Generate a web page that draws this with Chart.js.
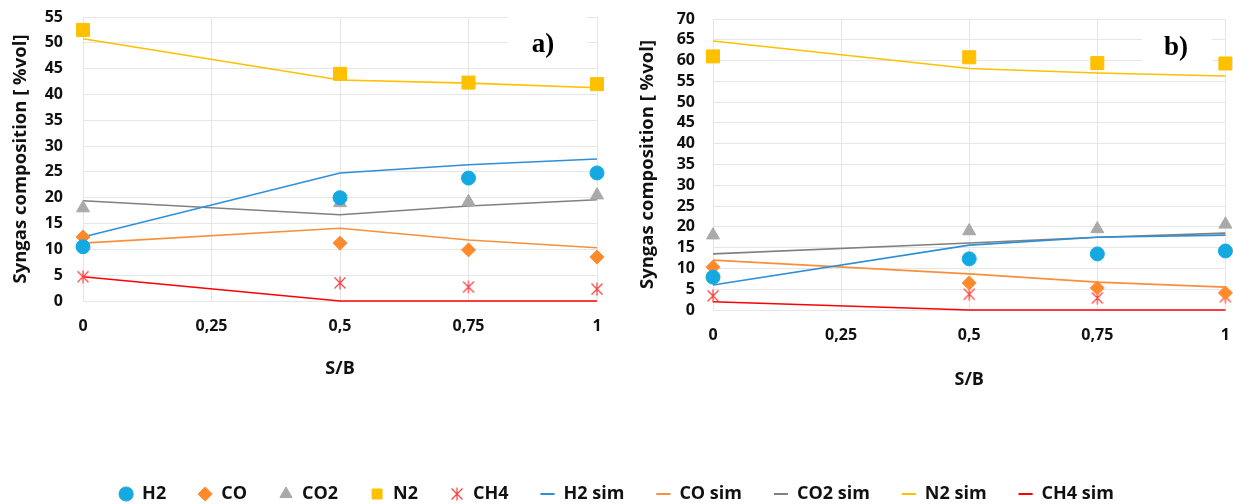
<!DOCTYPE html>
<html>
<head>
<meta charset="utf-8">
<script src="https://cdn.jsdelivr.net/npm/chart.js@4.4.0/dist/chart.umd.min.js"></script>
<style>
  html, body { margin: 0; padding: 0; background: #fff; overflow: hidden; }
  #wrap { position: relative; width: 1233px; height: 504px; overflow: hidden; }
  #chartA { position: absolute; left: 0; top: 0; }
  #chartB { position: absolute; left: 615px; top: 0; }
</style>
</head>
<body>
<div id="wrap">
  <canvas id="chartA" width="1233" height="513"></canvas>
  <canvas id="chartB" width="631" height="420"></canvas>
</div>
<script>
// S/B values and tick labels
const sbValues = [0, 0.5, 0.75, 1];
const xTickLabels = ["0", "0,25", "0,5", "0,75", "1"];

const seriesNames = ["H2", "CO", "CO2", "N2", "CH4"];
const simNames = ["H2 sim", "CO sim", "CO2 sim", "N2 sim", "CH4 sim"];

// panel a)
const h2A = [10.5, 20.0, 23.8, 24.8];
const coA = [12.4, 11.2, 9.9, 8.5];
const co2A = [18.0, 19.0, 19.2, 20.5];
const n2A = [52.5, 44.0, 42.3, 42.0];
const ch4A = [4.7, 3.5, 2.7, 2.3];
const h2SimA = [12.4, 24.8, 26.4, 27.5];
const coSimA = [11.2, 14.1, 11.8, 10.3];
const co2SimA = [19.4, 16.7, 18.4, 19.6];
const n2SimA = [50.8, 42.8, 42.2, 41.3];
const ch4SimA = [4.7, 0, 0, 0];

// panel b)
const h2B = [7.9, 12.3, 13.5, 14.2];
const coB = [10.3, 6.5, 5.3, 4.1];
const co2B = [18.0, 19.0, 19.5, 20.6];
const n2B = [61.0, 60.8, 59.4, 59.3];
const ch4B = [3.4, 3.8, 2.9, 3.2];
const h2SimB = [6.0, 15.6, 17.5, 18.0];
const coSimB = [12.0, 8.7, 6.7, 5.5];
const co2SimB = [13.5, 16.1, 17.5, 18.5];
const n2SimB = [64.7, 58.1, 57.0, 56.3];
const ch4SimB = [2.0, 0, 0, 0];

const FONT = "'Open Sans', Lato, sans-serif";
const markerColors = ["#14a9e1", "#ff8a2c", "#a9a9a9", "#ffc000", "#ff4040"];
const lineColors = ["#2e8fd6", "#f98f3c", "#808080", "#ffc000", "#ff0000"];

// excel style star marker: an X with a vertical bar
function makeStar(color) {
  const c = document.createElement("canvas");
  c.width = 14;
  c.height = 14;
  const g = c.getContext("2d");
  g.strokeStyle = color;
  g.lineWidth = 1.2;
  g.beginPath();
  g.moveTo(7, 0.5); g.lineTo(7, 13.5);
  g.moveTo(1.5, 1.5); g.lineTo(12.5, 12.5);
  g.moveTo(12.5, 1.5); g.lineTo(1.5, 12.5);
  g.stroke();
  return c;
}
const starImg = makeStar("#ff4040");

const markerStyles = ["circle", "rectRot", "triangle", "rect", starImg];
const markerRadius = [7, 7, 7.5, 9.2, 7];

function pts(values) {
  return values.map((v, i) => ({ x: sbValues[i], y: v }));
}

function buildDatasets(measured, sims) {
  const sets = [];
  measured.forEach((vals, i) => {
    sets.push({
      label: seriesNames[i],
      data: pts(vals),
      showLine: false,
      pointStyle: markerStyles[i],
      pointRadius: markerRadius[i],
      pointBackgroundColor: markerColors[i],
      pointBorderColor: markerColors[i],
      pointBorderWidth: 1,
      backgroundColor: markerColors[i],
      borderColor: markerColors[i],
      clip: false,
    });
  });
  sims.forEach((vals, i) => {
    sets.push({
      label: simNames[i],
      data: pts(vals),
      showLine: true,
      borderColor: lineColors[i],
      backgroundColor: lineColors[i],
      borderWidth: 1.6,
      pointRadius: 0,
      pointStyle: "line",
      pointBorderColor: lineColors[i],
      pointBorderWidth: 2,
      tension: 0,
      clip: false,
    });
  });
  return sets;
}

// white text box with the panel letter
const panelLabel = {
  id: "panelLabel",
  beforeDatasetsDraw(chart, args, opts) {
    const ctx = chart.ctx;
    ctx.save();
    ctx.fillStyle = "#fff";
    ctx.fillRect(opts.box[0], opts.box[1], opts.box[2], opts.box[3]);
    ctx.fillStyle = "#000";
    ctx.font = "bold 27px 'Liberation Serif', 'Times New Roman', serif";
    ctx.textAlign = "center";
    ctx.textBaseline = "middle";
    ctx.fillText(opts.text, opts.x, opts.y);
    ctx.restore();
  },
};

function xScale(height, titlePad) {
  return {
    type: "linear",
    min: 0,
    max: 1,
    afterFit: (s) => { s.height = height; },
    grid: { color: "#e6e6e6", drawTicks: false },
    border: { display: false },
    ticks: {
      stepSize: 0.25,
      padding: 16,
      color: "#111",
      font: { family: FONT, size: 16, weight: "bold" },
      callback: (v, i) => xTickLabels[i],
    },
    title: {
      display: true,
      text: "S/B",
      color: "#111",
      font: { family: FONT, size: 18, weight: "bold" },
      padding: { top: 0, bottom: titlePad },
    },
  };
}

// gap between labels and plot comes from an invisible tick mark,
// so the label padding does not push the plot area down
function yScale(max, width, gap, titlePad) {
  return {
    min: 0,
    max: max,
    afterFit: (s) => { s.width = width; },
    grid: { color: "#e6e6e6", drawTicks: true, tickLength: gap, tickColor: "rgba(0,0,0,0)" },
    border: { display: false },
    ticks: {
      stepSize: 5,
      autoSkip: false,
      padding: 0,
      color: "#111",
      font: { family: FONT, size: 16, weight: "bold" },
    },
    title: {
      display: true,
      text: "Syngas composition [ %vol]",
      color: "#111",
      font: { family: FONT, size: 18.5, weight: "bold" },
      padding: { top: titlePad, bottom: 0 },
    },
  };
}

const chartA = new Chart(document.getElementById("chartA"), {
  type: "scatter",
  data: {
    datasets: buildDatasets([h2A, coA, co2A, n2A, ch4A], [h2SimA, coSimA, co2SimA, n2SimA, ch4SimA]),
  },
  options: {
    responsive: false,
    animation: false,
    layout: { padding: { top: 17, left: 0, right: 0, bottom: 0 } },
    scales: {
      x: xScale(152, 73),
      y: yScale(55, 83, 20, 10),
      // spacer so the plot stops at the left panel while the legend spans the page
      spacer: {
        type: "linear",
        position: "right",
        display: true,
        grid: { display: false },
        border: { display: false },
        ticks: { display: false },
        afterFit: (s) => { s.width = 1233 - 597; },
      },
    },
    plugins: {
      tooltip: { enabled: false },
      legend: {
        display: true,
        position: "bottom",
        labels: {
          usePointStyle: true,
          boxWidth: 14,
          boxHeight: 10,
          padding: 32,
          color: "#111",
          font: { family: FONT, size: 18, weight: "bold" },
        },
      },
      panelLabel: { text: "a)", x: 543, y: 45, box: [508, 10, 79, 52] },
    },
  },
  plugins: [panelLabel],
});

const chartB = new Chart(document.getElementById("chartB"), {
  type: "scatter",
  data: {
    datasets: buildDatasets([h2B, coB, co2B, n2B, ch4B], [h2SimB, coSimB, co2SimB, n2SimB, ch4SimB]),
  },
  options: {
    responsive: false,
    animation: false,
    layout: { padding: { top: 19, left: 0, right: 9, bottom: 0 } },
    scales: {
      x: xScale(110, 29),
      y: yScale(70, 98, 18, 22),
    },
    plugins: {
      tooltip: { enabled: false },
      legend: { display: false },
      panelLabel: { text: "b)", x: 561, y: 48, box: [527, 20, 70, 42] },
    },
  },
  plugins: [panelLabel],
});
</script>
</body>
</html>
